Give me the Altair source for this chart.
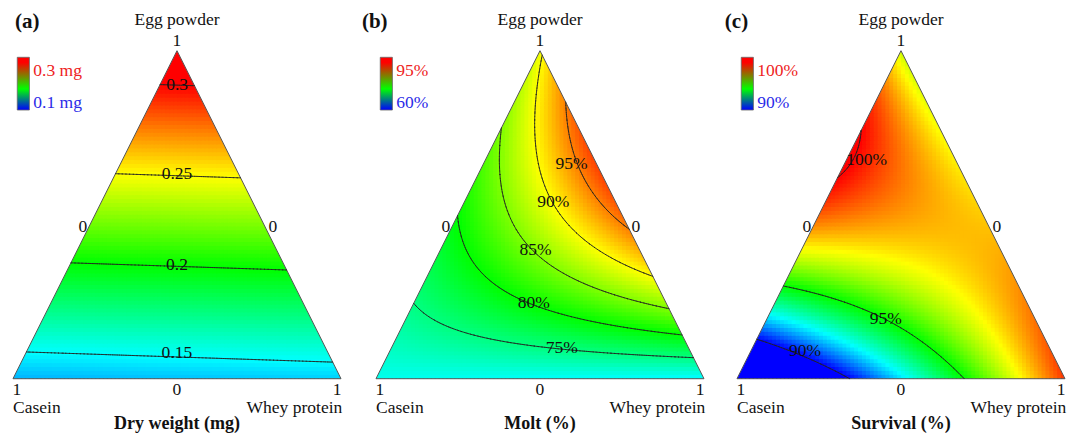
import numpy as np
import pandas as pd
import altair as alt

# ---------------- values ----------------
panel_tags = ["(a)", "(b)", "(c)"]
panel_titles = ["Dry weight (mg)", "Molt (%)", "Survival (%)"]
top_component = "Egg powder"
left_component = "Casein"
right_component = "Whey protein"

legend_hi = ["0.3 mg", "95%", "100%"]
legend_lo = ["0.1 mg", "60%", "90%"]
# colour ramp ends actually used for the surfaces (blue .. red)
color_lo = [0.1, 60.0, 90.0]
color_hi = [0.3, 100.0, 100.0]

# Scheffé mixture-model coefficients fitted to the drawn contours
# order: Casein, Whey, Egg, Casein*Whey, Casein*Egg, Whey*Egg
coef_dry = [0.135, 0.141, 0.319, 0.0, 0.0, 0.0]
coef_molt = [70.7, 69.8, 89.4, 0.0, 0.0, 65.6]
coef_surv = [85.2, 99.5, 97.0, -0.5, 31.9, -1.0]

levels_dry = [0.15, 0.2, 0.25, 0.3]
levels_molt = [75, 80, 85, 90, 95]
levels_surv = [90, 95, 100]

labels_dry = ["0.15", "0.2", "0.25", "0.3"]
labels_molt = ["75%", "80%", "85%", "90%", "95%"]
labels_surv = ["90%", "95%", "100%"]

# contour-label compositions (Whey fraction, Egg fraction)
label_whey_dry = [0.460, 0.327, 0.188, 0.053]
label_egg_dry = [0.079, 0.346, 0.624, 0.895]
label_whey_molt = [0.520, 0.366, 0.290, 0.271, 0.268]
label_egg_molt = [0.093, 0.230, 0.392, 0.539, 0.656]
label_whey_surv = [0.166, 0.363, 0.062]
label_egg_surv = [0.083, 0.181, 0.666]

coefs = [coef_dry, coef_molt, coef_surv]
levels = [levels_dry, levels_molt, levels_surv]
clabels = [labels_dry, labels_molt, labels_surv]
lab_w = [label_whey_dry, label_whey_molt, label_whey_surv]
lab_e = [label_egg_dry, label_egg_molt, label_egg_surv]

# ---------------- layout (triangle base = 1 unit) ----------------
panel_origin = [0.0, 1.1067, 2.2073]
tag_dx = [0.006, -0.043, -0.037]
X_MIN, X_MAX = -0.01524, 3.2256
Y_MIN, Y_MAX = -0.1655, 1.1302
FONT = "Liberation Serif, Times New Roman, Times, DejaVu Serif, serif"

rainbow = ["#0000ff", "#00ffff", "#00ff00", "#ffff00", "#ff0000"]


def mix_value(c, W, E):
    C = 1.0 - W - E
    return c[0] * C + c[1] * W + c[2] * E + c[3] * C * W + c[4] * C * E + c[5] * W * E


# ---------------- filled surface cells ----------------
NC = 84
d = 1.0 / NC
cell_rows = []
for k, coef in enumerate(coefs):
    ox = panel_origin[k]
    lo, hi = color_lo[k], color_hi[k]
    for j in range(NC):
        y0 = j * d
        y1 = min(1.0, y0 + 1.35 * d)
        yc = y0 + d / 2
        for i in range(NC):
            x0 = i * d
            if x0 + d <= y0 / 2 or x0 >= 1 - y0 / 2:
                continue
            x1 = min(1.0, x0 + 1.35 * d)
            xc = x0 + d / 2
            E = min(max(yc, 0.0), 1.0)
            W = min(max(xc - E / 2, 0.0), 1.0 - E)
            v = mix_value(coef, W, E)
            t = float(np.clip((v - lo) / (hi - lo), 0, 1))
            cell_rows.append({"x": round(ox + x0, 5), "x2": round(ox + x1, 5),
                              "y": round(y0, 5), "y2": round(y1, 5), "t": round(t, 4)})
cells = pd.DataFrame(cell_rows)


# ---------------- contour segments (marching triangles) ----------------
def contour_segments(coef, levs, n=90):
    vals = {}
    for j in range(n + 1):
        for i in range(n + 1 - j):
            vals[(i, j)] = mix_value(coef, i / n, j / n)
    tris = []
    for j in range(n):
        for i in range(n - j):
            tris.append(((i, j), (i + 1, j), (i, j + 1)))
            if i + j <= n - 2:
                tris.append(((i + 1, j), (i + 1, j + 1), (i, j + 1)))
    segs = []
    for lev in levs:
        for tri in tris:
            pts = []
            for a in range(3):
                p, q = tri[a], tri[(a + 1) % 3]
                va, vb = vals[p] - lev, vals[q] - lev
                if (va < 0) != (vb < 0):
                    f = va / (va - vb)
                    W = (p[0] + f * (q[0] - p[0])) / n
                    E = (p[1] + f * (q[1] - p[1])) / n
                    pts.append((W, E))
            if len(pts) == 2:
                segs.append(pts)
    return segs


seg_rows = []
for k in range(3):
    ox = panel_origin[k]
    for (w1, e1), (w2, e2) in contour_segments(coefs[k], levels[k]):
        seg_rows.append({"x": ox + w1 + e1 / 2, "y": e1, "x2": ox + w2 + e2 / 2, "y2": e2})
segs = pd.DataFrame(seg_rows)

# ---------------- masks (white outside the triangle), outlines ----------------
mask_rows, edge_rows = [], []
for k in range(3):
    ox = panel_origin[k]
    # left: above the Casein-Egg edge
    mask_rows += [
        {"m": f"L{k}", "x": ox - 0.03, "y": -0.01, "y2": 1.02},
        {"m": f"L{k}", "x": ox, "y": 0.0, "y2": 1.02},
        {"m": f"L{k}", "x": ox + 0.5, "y": 1.0, "y2": 1.02},
    ]
    # right: above the Whey-Egg edge
    mask_rows += [
        {"m": f"R{k}", "x": ox + 0.5, "y": 1.0, "y2": 1.02},
        {"m": f"R{k}", "x": ox + 1.0, "y": 0.0, "y2": 1.02},
        {"m": f"R{k}", "x": ox + 1.03, "y": -0.01, "y2": 1.02},
    ]
    corners = [(ox, 0.0), (ox + 1, 0.0), (ox + 0.5, 1.0)]
    for a in range(3):
        (xa, ya), (xb, yb) = corners[a], corners[(a + 1) % 3]
        edge_rows.append({"x": xa, "y": ya, "x2": xb, "y2": yb})
masks = pd.DataFrame(mask_rows)
edges = pd.DataFrame(edge_rows)

# ---------------- texts ----------------
center_rows, left_rows, right_rows, bold_c, bold_l = [], [], [], [], []
red_rows, blue_rows, clab_rows, bar_rows = [], [], [], []
for k in range(3):
    ox = panel_origin[k]
    center_rows += [
        {"x": ox + 0.5, "y": 1.0921, "text": top_component},
        {"x": ox + 0.5, "y": 1.0296, "text": "1"},
        {"x": ox + 0.213, "y": 0.4634, "text": "0"},
        {"x": ox + 0.792, "y": 0.4634, "text": "0"},
        {"x": ox + 0.012, "y": -0.0345, "text": "1"},
        {"x": ox + 0.5, "y": -0.0345, "text": "0"},
        {"x": ox + 0.988, "y": -0.0345, "text": "1"},
    ]
    left_rows.append({"x": ox + 0.0, "y": -0.0902, "text": left_component})
    right_rows.append({"x": ox + 1.004, "y": -0.0902, "text": right_component})
    bold_c.append({"x": ox + 0.5, "y": -0.1366, "text": panel_titles[k]})
    bold_l.append({"x": ox + tag_dx[k], "y": 1.089, "text": panel_tags[k]})
    red_rows.append({"x": ox + 0.062, "y": 0.9387, "text": legend_hi[k]})
    blue_rows.append({"x": ox + 0.062, "y": 0.8393, "text": legend_lo[k]})
    bar_rows.append({"x": ox + 0.013, "x2": ox + 0.050, "y": 0.8192, "y2": 0.9799})
    for txt, w, e in zip(clabels[k], lab_w[k], lab_e[k]):
        clab_rows.append({"x": ox + w + e / 2, "y": e, "text": txt})

xs = alt.Scale(domain=[X_MIN, X_MAX], nice=False, zero=False)
ys = alt.Scale(domain=[Y_MIN, Y_MAX], nice=False, zero=False)


def XQ(f="x"):
    return alt.X(f"{f}:Q", scale=xs, axis=None)


def YQ(f="y"):
    return alt.Y(f"{f}:Q", scale=ys, axis=None, stack=None)


fill = alt.Chart(cells).mark_rect(strokeWidth=0).encode(
    x=XQ(), x2="x2:Q", y=YQ(), y2="y2:Q",
    color=alt.Color("t:Q", legend=None,
                    scale=alt.Scale(domain=[0, 0.25, 0.5, 0.75, 1], range=rainbow,
                                    interpolate="rgb", clamp=True)),
)

mask = alt.Chart(masks).mark_area(color="white", opacity=1).encode(
    x=XQ(), y=YQ(), y2="y2:Q", detail="m:N"
)

outline = alt.Chart(edges).mark_rule(color="#555555", strokeWidth=1).encode(
    x=XQ(), y=YQ(), x2="x2:Q", y2="y2:Q"
)

contours = alt.Chart(segs).mark_rule(color="#222222", strokeWidth=1, opacity=0.85,
                                     strokeCap="round").encode(
    x=XQ(), y=YQ(), x2="x2:Q", y2="y2:Q"
)

grad = alt.Gradient(
    gradient="linear",
    stops=[alt.GradientStop(color="#0000ff", offset=0),
           alt.GradientStop(color="#00ff00", offset=0.4),
           alt.GradientStop(color="#ff0000", offset=0.9),
           alt.GradientStop(color="#ff0000", offset=1)],
    x1=0, x2=0, y1=1, y2=0,
)
bars = alt.Chart(pd.DataFrame(bar_rows)).mark_rect(fill=grad, stroke="#666666",
                                                    strokeWidth=0.8).encode(
    x=XQ(), x2="x2:Q", y=YQ(), y2="y2:Q"
)


def text_layer(rows, **mk):
    return alt.Chart(pd.DataFrame(rows)).mark_text(font=FONT, baseline="middle", **mk).encode(
        x=XQ(), y=YQ(), text="text:N"
    )


texts = [
    text_layer(center_rows, align="center", fontSize=17.5, color="#111111"),
    text_layer(left_rows, align="left", fontSize=17.5, color="#111111"),
    text_layer(right_rows, align="right", fontSize=17.5, color="#111111"),
    text_layer(bold_c, align="center", fontSize=18, fontWeight="bold", color="#111111"),
    text_layer(bold_l, align="left", fontSize=21, fontWeight="bold", color="#111111"),
    text_layer(red_rows, align="left", fontSize=17.5, color="#ee2222"),
    text_layer(blue_rows, align="left", fontSize=17.5, color="#2a2ae8"),
    text_layer(clab_rows, align="center", fontSize=17.5, color="#111111"),
]

chart = alt.layer(fill, mask, outline, contours, bars, *texts).properties(
    width=1063, height=425, padding=0,
    autosize=alt.AutoSizeParams(type="none"),
).configure_view(stroke=None).resolve_scale(color="independent")

chart.save("out.html", embed_options={"renderer": "svg", "actions": False})
